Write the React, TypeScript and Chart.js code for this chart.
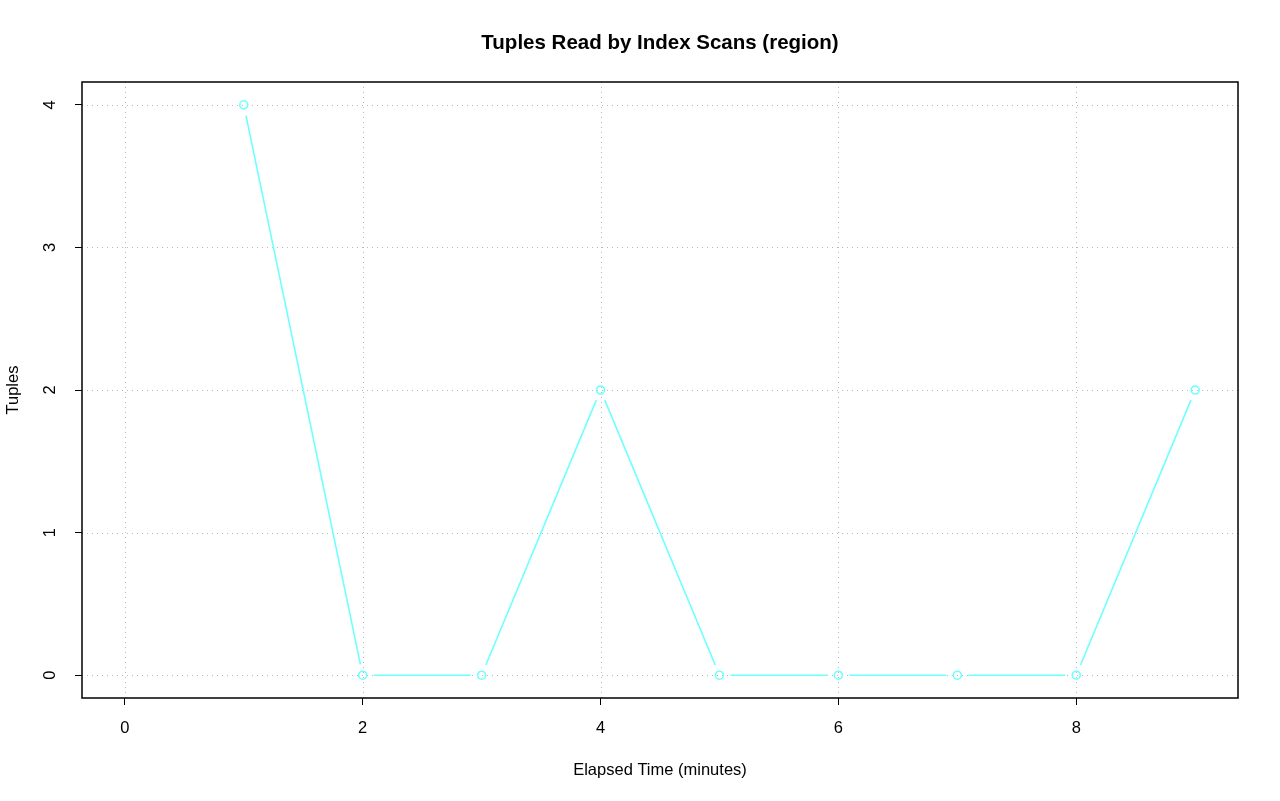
import React, { useEffect, useRef } from "react";
import { Chart, registerables } from "chart.js";

Chart.register(...registerables);

const minutes = [1, 2, 3, 4, 5, 6, 7, 8, 9];
const tuples = [4, 0, 0, 2, 0, 0, 0, 0, 2];
const xTicks = [0, 2, 4, 6, 8];
const yTicks = [0, 1, 2, 3, 4];

const TITLE = "Tuples Read by Index Scans (region)";
const X_TITLE = "Elapsed Time (minutes)";
const Y_TITLE = "Tuples";
const LINE_COLOR = "#6effff";
const FONT = "'Liberation Sans', Arial, Helvetica, sans-serif";
const AXIS_SIZE = 16.5;
const TITLE_SIZE = 20.5;

const rPlotPlugin = {
  id: "rplot",
  beforeDatasetsDraw(chart: any) {
    const { ctx, chartArea: a } = chart;
    const xs = chart.scales.x;
    const ys = chart.scales.y;
    ctx.save();
    ctx.strokeStyle = "#b8b8b8";
    ctx.lineWidth = 1;
    ctx.setLineDash([1, 4]);
    for (const v of xTicks) {
      const x = Math.round(xs.getPixelForValue(v)) + 0.5;
      ctx.beginPath();
      ctx.moveTo(x, a.top);
      ctx.lineTo(x, a.bottom);
      ctx.stroke();
    }
    for (const v of yTicks) {
      const y = Math.round(ys.getPixelForValue(v)) + 0.5;
      ctx.beginPath();
      ctx.moveTo(a.left, y);
      ctx.lineTo(a.right, y);
      ctx.stroke();
    }
    ctx.restore();
  },
  afterDatasetsDraw(chart: any) {
    const { ctx } = chart;
    const pts = chart.getDatasetMeta(0).data;
    const gap = 11;
    ctx.save();
    ctx.strokeStyle = LINE_COLOR;
    ctx.lineWidth = 1.6;
    for (let i = 0; i < pts.length - 1; i++) {
      const p = pts[i];
      const q = pts[i + 1];
      const dx = q.x - p.x;
      const dy = q.y - p.y;
      const len = Math.hypot(dx, dy);
      if (len <= 2 * gap) continue;
      const ux = dx / len;
      const uy = dy / len;
      ctx.beginPath();
      ctx.moveTo(p.x + ux * gap, p.y + uy * gap);
      ctx.lineTo(q.x - ux * gap, q.y - uy * gap);
      ctx.stroke();
    }
    ctx.restore();
  },
  afterDraw(chart: any) {
    const { ctx, chartArea: a } = chart;
    const ys = chart.scales.y;
    ctx.save();
    ctx.strokeStyle = "#000";
    ctx.lineWidth = 1.5;
    ctx.strokeRect(a.left, a.top, a.right - a.left, a.bottom - a.top);
    ctx.fillStyle = "#000";
    ctx.textAlign = "center";
    ctx.textBaseline = "middle";
    ctx.font = `bold ${TITLE_SIZE}px ${FONT}`;
    ctx.fillText(TITLE, (a.left + a.right) / 2, 43);
    ctx.font = `${AXIS_SIZE}px ${FONT}`;
    for (const v of yTicks) {
      const y = ys.getPixelForValue(v);
      ctx.save();
      ctx.translate(50, y);
      ctx.rotate(-Math.PI / 2);
      ctx.fillText(String(v), 0, 0);
      ctx.restore();
    }
    ctx.restore();
  },
};

export default function App() {
  const ref = useRef<HTMLCanvasElement | null>(null);
  useEffect(() => {
    document.body.style.margin = "0";
    const chart = new Chart(ref.current as HTMLCanvasElement, {
      type: "line",
      data: {
        datasets: [
          {
            data: minutes.map((m, i) => ({ x: m, y: tuples[i] })),
            showLine: false,
            borderColor: LINE_COLOR,
            backgroundColor: "rgba(0,0,0,0)",
            pointBorderColor: LINE_COLOR,
            pointBackgroundColor: "rgba(0,0,0,0)",
            pointRadius: 4,
            pointBorderWidth: 1.6,
            pointHoverRadius: 4,
          },
        ],
      },
      options: {
        animation: false,
        responsive: false,
        events: [],
        layout: { padding: { left: 0, right: 42, top: 82, bottom: 0 } },
        plugins: {
          legend: { display: false },
          tooltip: { enabled: false },
          title: { display: false },
        },
        scales: {
          x: {
            type: "linear",
            min: -0.36,
            max: 9.36,
            afterBuildTicks: (s: any) => {
              s.ticks = xTicks.map((v) => ({ value: v }));
            },
            afterFit: (s: any) => {
              s.height = 103;
            },
            grid: {
              drawOnChartArea: false,
              drawTicks: true,
              tickLength: 7,
              tickColor: "#000",
              tickWidth: 1,
            },
            border: { display: false },
            ticks: {
              color: "#000",
              font: { family: FONT, size: AXIS_SIZE },
              padding: 14,
              maxRotation: 0,
              minRotation: 0,
              autoSkip: false,
            },
            title: {
              display: true,
              text: X_TITLE,
              color: "#000",
              font: { family: FONT, size: AXIS_SIZE },
              padding: { top: 0, bottom: 21 },
            },
          },
          y: {
            type: "linear",
            min: -0.16,
            max: 4.16,
            afterBuildTicks: (s: any) => {
              s.ticks = yTicks.map((v) => ({ value: v }));
            },
            afterFit: (s: any) => {
              s.width = 82;
            },
            grid: {
              drawOnChartArea: false,
              drawTicks: true,
              tickLength: 7,
              tickColor: "#000",
              tickWidth: 1,
            },
            border: { display: false },
            ticks: { display: false },
            title: {
              display: true,
              text: Y_TITLE,
              color: "#000",
              font: { family: FONT, size: AXIS_SIZE },
              padding: { top: 4, bottom: 0 },
            },
          },
        },
      },
      plugins: [rPlotPlugin],
    } as any);
    return () => chart.destroy();
  }, []);
  return (
    <div style={{ position: "absolute", left: 0, top: 0, width: 1280, height: 801, background: "#fff" }}>
      <canvas ref={ref} width={1280} height={801} />
    </div>
  );
}
